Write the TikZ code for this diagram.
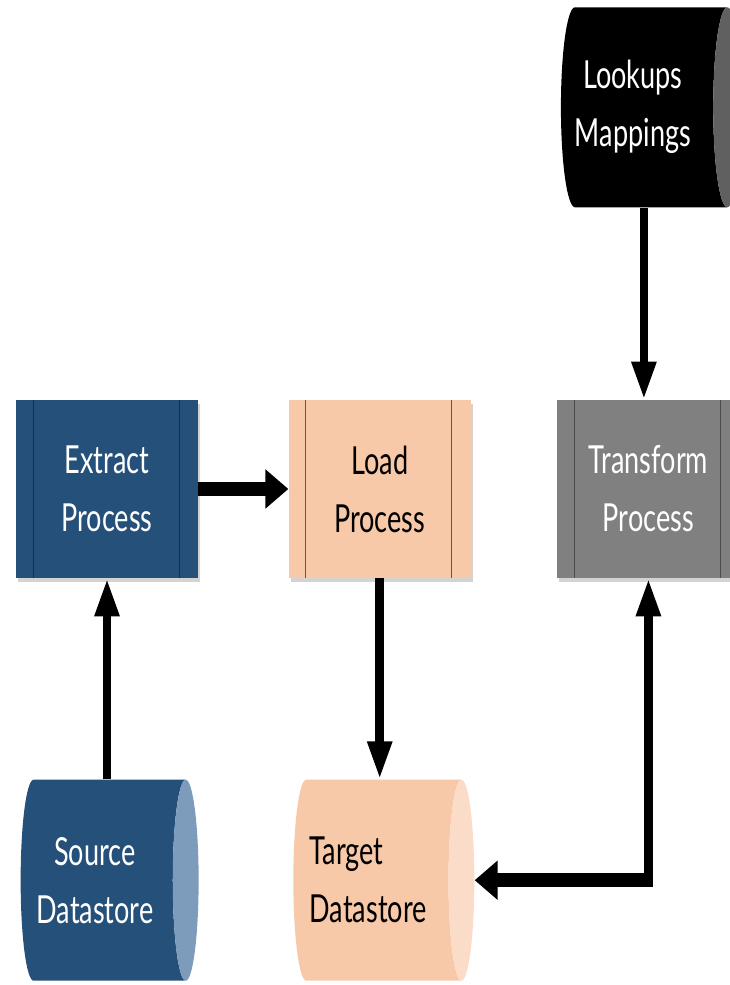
\documentclass[tikz,border=0pt]{standalone}
\usepackage{fontspec}
\newfontfamily\etlfont[FakeStretch=0.7]{Lato}
\usetikzlibrary{arrows.meta,positioning,shapes.geometric,shadows}
\definecolor{etlblue}{HTML}{25507A}
\definecolor{etlbluecap}{HTML}{7D9BBA}
\definecolor{etlpeach}{HTML}{F7C9A8}
\definecolor{etlpeachcap}{HTML}{FADCC8}
\definecolor{etlgray}{HTML}{808080}
\definecolor{etlblackcap}{HTML}{606060}
\tikzset{
  shade/.style={drop shadow={shadow xshift=0.04cm, shadow yshift=-0.08cm, opacity=0.35}},
  proc/.style={rectangle, shade, minimum width=3.64cm, minimum height=3.56cm, inner sep=0pt,
    align=center, font=\etlfont\fontsize{22}{33}\selectfont,
    path picture={
      \draw[#1] ([xshift=0.34cm]path picture bounding box.north west) -- ([xshift=0.34cm]path picture bounding box.south west);
      \draw[#1] ([xshift=-0.38cm]path picture bounding box.north east) -- ([xshift=-0.38cm]path picture bounding box.south east);
    }},
  store/.style={cylinder, shape aspect=0.3, minimum height=3.56cm, minimum width=4.02cm,
    inner sep=0pt, align=center, font=\etlfont\fontsize{22}{33}\selectfont, cylinder uses custom fill},
  varr/.style={-{Triangle[length=0.76cm,width=0.46cm]}, line width=0.17cm},
  harr/.style={-{Triangle[length=0.46cm,width=0.76cm]}, line width=0.27cm}
}
\begin{document}
\begin{tikzpicture}
  \useasboundingbox (0,0) rectangle (14.58,19.7);

  \node[proc=etlblue!60!black, fill=etlblue, text=white] (extract) at (2.14,9.92) {Extract\\Process};
  \node[proc=black!65, fill=etlpeach, right=1.8cm of extract] (load) {Load\\Process};
  \node[proc=black!70, fill=etlgray, text=white, right=1.72cm of load] (transform) {Transform\\Process};

  \node[store, cylinder body fill=etlblue, cylinder end fill=etlbluecap, text=white,
    below=4.02cm of extract, xshift=-0.08cm] (source) {Source\hspace*{0.32cm}\\Datastore\hspace*{0.32cm}};
  \node[store, cylinder body fill=etlpeach, cylinder end fill=etlpeachcap, minimum height=3.62cm, align=left,
    below=4.02cm of load, xshift=-0.05cm] (target) {Target\\Datastore\hspace*{0.36cm}};
  \node[store, cylinder body fill=black, cylinder end fill=etlblackcap, text=white, minimum height=3.46cm,
    minimum width=4.0cm, above=3.84cm of transform, xshift=-0.09cm] (lookups) {Lookups\hspace*{0.44cm}\\Mappings\hspace*{0.44cm}};

  \draw[varr] (extract.south |- source.north) -- (extract.south);
  \draw[harr] (extract.east) -- (load.west);
  \draw[varr] (load.south) -- (load.south |- target.north);
  \draw[varr] (lookups.south) -- (lookups.south |- transform.north);

  % return path from transform down to target
  \coordinate (bend) at (transform.south |- target.east);
  \draw[harr] ([xshift=0.085cm]bend) -- (target.east);
  \draw[varr] ([yshift=-0.135cm]bend) -- (transform.south);
\end{tikzpicture}
\end{document}
